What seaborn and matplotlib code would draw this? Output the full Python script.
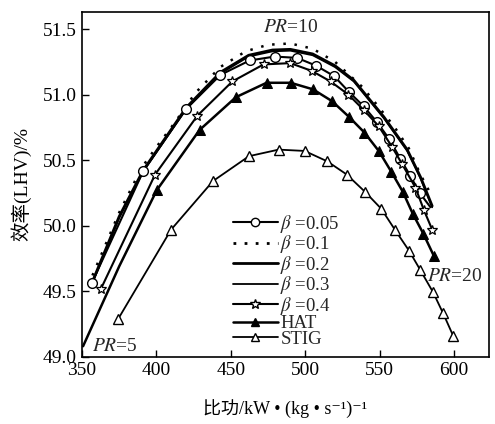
import matplotlib
matplotlib.use('Agg')
import matplotlib.pyplot as plt
from matplotlib.lines import Line2D
import seaborn as sns

# 数据
beta005_x = [356.5, 391.3, 420, 443, 462.6, 479.4, 494.5, 507.4, 519.5, 529.4, 539.3, 548.2, 556.5, 563.9, 570.6, 576.9, 584.2]
beta005_y = [49.56, 50.42, 50.89, 51.15, 51.26, 51.29, 51.28, 51.22, 51.14, 51.02, 50.91, 50.79, 50.66, 50.51, 50.38, 50.25, 50.14]

beta01_x = [357, 375, 390, 400, 412.6, 426, 442.9, 460, 475, 490, 505, 520, 538.2, 548.3, 559.5, 569.6, 577, 583]
beta01_y = [49.62, 50.10, 50.44, 50.60, 50.79, 51.01, 51.21, 51.33, 51.38, 51.39, 51.35, 51.25, 51.06, 50.92, 50.76, 50.59, 50.40, 50.27]

beta02_x = [358, 375, 391, 420, 443, 462, 478, 490, 505, 520, 532.6, 552.8, 568.5, 577.5, 585.3]
beta02_y = [49.60, 50.07, 50.42, 50.90, 51.17, 51.30, 51.34, 51.345, 51.31, 51.22, 51.11, 50.83, 50.58, 50.37, 50.15]

beta03_x = [358, 375, 391, 420, 443, 462, 478, 490, 505, 520, 532.6, 552.8, 568.5, 577.5, 585.3]
beta03_y = [49.59, 50.06, 50.41, 50.89, 51.16, 51.29, 51.33, 51.335, 51.30, 51.21, 51.10, 50.82, 50.57, 50.36, 50.14]

beta04_x = [362.8, 399.1, 427.6, 451, 472, 490, 504.5, 517, 529, 539.5, 549.3, 558.4, 565.1, 574.1, 579.7, 585.3]
beta04_y = [49.52, 50.39, 50.84, 51.10, 51.23, 51.24, 51.18, 51.10, 51.00, 50.88, 50.76, 50.60, 50.47, 50.29, 50.12, 49.97]

hat_x = [350.7, 375, 400.2, 429, 453.4, 474, 490.2, 505.2, 518, 529.4, 539.8, 549.4, 557.9, 565.5, 572.3, 579.3, 586.4]
hat_y = [49.08, 49.69, 50.27, 50.73, 50.98, 51.09, 51.09, 51.04, 50.95, 50.83, 50.71, 50.57, 50.41, 50.26, 50.09, 49.94, 49.77]

stig_x = [374.4, 409.9, 438, 462.2, 482.1, 499.6, 514.9, 527.9, 540, 551, 560.2, 569.7, 577.4, 586, 592.7, 599.4]
stig_y = [49.29, 49.97, 50.34, 50.53, 50.58, 50.57, 50.49, 50.39, 50.26, 50.13, 49.97, 49.81, 49.66, 49.49, 49.33, 49.16]

labels = ['$\\beta$ =0.05', '$\\beta$ =0.1', '$\\beta$ =0.2', '$\\beta$ =0.3', '$\\beta$ =0.4', 'HAT', 'STIG']

sns.set_theme(style='ticks')
plt.rcParams['font.family'] = ['Liberation Serif', 'Noto Sans CJK SC', 'DejaVu Serif']
plt.rcParams['mathtext.fontset'] = 'stix'

fig = plt.figure(figsize=(4.95, 4.24), dpi=100)
ax = fig.add_axes([0.1657, 0.1587, 0.8222, 0.813])

common = dict(ax=ax, sort=False, estimator=None, color='black')
sns.lineplot(x=beta01_x, y=beta01_y, linestyle=(0, (1, 3.5)), linewidth=1.8, **common)
sns.lineplot(x=beta02_x, y=beta02_y, linewidth=2.0, **common)
sns.lineplot(x=beta03_x, y=beta03_y, linewidth=1.3, **common)
sns.lineplot(x=beta005_x, y=beta005_y, linewidth=1.5, marker='o', markersize=7,
             markerfacecolor='white', markeredgecolor='black', markeredgewidth=1.0,
             markevery=list(range(len(beta005_x) - 1)), **common)
sns.lineplot(x=beta04_x, y=beta04_y, linewidth=1.5, marker='*', markersize=7.5,
             markerfacecolor='white', markeredgecolor='black', markeredgewidth=0.9, **common)
sns.lineplot(x=hat_x, y=hat_y, linewidth=1.8, marker='^', markersize=7,
             markerfacecolor='black', markeredgecolor='black',
             markevery=list(range(2, len(hat_x))), **common)
sns.lineplot(x=stig_x, y=stig_y, linewidth=1.3, marker='^', markersize=7,
             markerfacecolor='white', markeredgecolor='black', markeredgewidth=1.0, **common)

ax.set_xlim(350, 623.5)
ax.set_ylim(49.0, 51.63)
ax.set_xticks([350, 400, 450, 500, 550, 600])
ax.set_yticks([49.0, 49.5, 50.0, 50.5, 51.0, 51.5])
ax.set_yticklabels(['49.0', '49.5', '50.0', '50.5', '51.0', '51.5'])
ax.tick_params(direction='in', length=5, width=1, labelsize=14, colors='black', pad=4)
for s in ax.spines.values():
    s.set_color('black')
    s.set_linewidth(1.2)

ax.set_xlabel('比功/kW • (kg • s⁻¹)⁻¹', fontsize=13, color='black', labelpad=14)
ax.set_ylabel('效率(LHV)/%', fontsize=14, color='black')
ax.yaxis.set_label_coords(-0.125, 0.5)

ax.text(490, 51.515, '$PR$=10', fontsize=14, ha='center', va='center')
ax.text(582, 49.61, '$PR$=20', fontsize=14, ha='left', va='center')
ax.text(356.5, 49.08, '$PR$=5', fontsize=14, ha='left', va='center')

handles = [
    Line2D([], [], color='black', lw=1.5, marker='o', markersize=6, markerfacecolor='white'),
    Line2D([], [], color='black', lw=2.0, linestyle=(0, (1, 3))),
    Line2D([], [], color='black', lw=2.0),
    Line2D([], [], color='black', lw=1.3),
    Line2D([], [], color='black', lw=1.5, marker='*', markersize=7, markerfacecolor='white'),
    Line2D([], [], color='black', lw=1.8, marker='^', markersize=6, markerfacecolor='black'),
    Line2D([], [], color='black', lw=1.3, marker='^', markersize=6, markerfacecolor='white'),
]
ax.legend(handles, labels, loc='upper left', bbox_to_anchor=(0.37, 0.418),
          frameon=False, fontsize=13.5, handlelength=2.4, handletextpad=0.15,
          labelspacing=-0.08, borderpad=0, borderaxespad=0)

fig.savefig('out.png', dpi=100)
